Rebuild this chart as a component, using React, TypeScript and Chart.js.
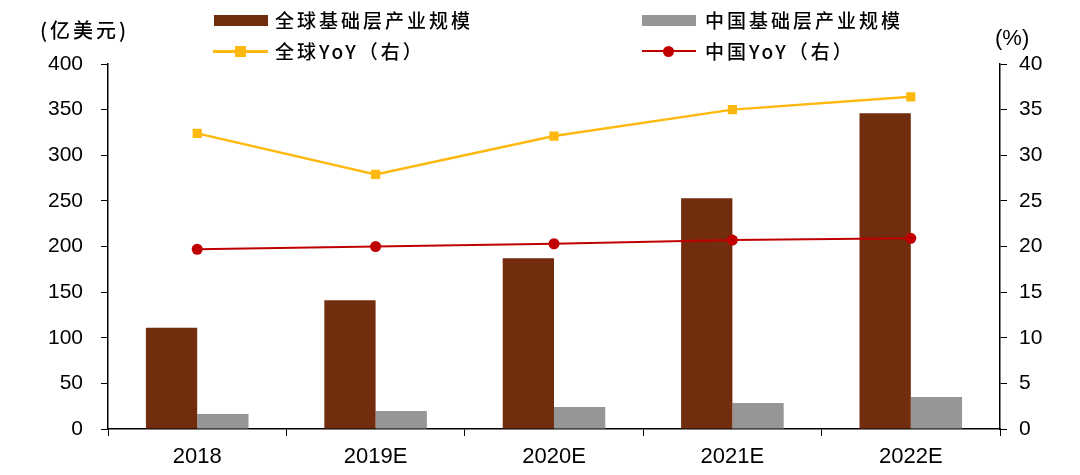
import React, { useEffect, useRef } from "react";
import { Chart, registerables } from "chart.js";

Chart.register(...registerables);

const categories = ["2018", "2019E", "2020E", "2021E", "2022E"];
const globalScale = [111, 141, 187, 253, 346];
const chinaScale = [16.5, 19.7, 24, 28.5, 35];
const globalYoY = [32.4, 27.9, 32.1, 35.0, 36.4];
const chinaYoY = [19.7, 20.0, 20.3, 20.7, 20.9];
const leftTicks = [0, 50, 100, 150, 200, 250, 300, 350, 400];
const rightTicks = [0, 5, 10, 15, 20, 25, 30, 35, 40];

const BROWN = "#722C0E";
const GREY = "#969696";
const GOLD = "#FFB80F";
const RED = "#C00000";

const numFamily = "'Liberation Sans', Arial, sans-serif";
const yFont = { family: numFamily, size: 21 };
const xFont = { family: numFamily, size: 22 };
const cjk = "'Noto Sans CJK SC', 'Liberation Sans', sans-serif";

export default function App() {
  const ref = useRef<HTMLCanvasElement | null>(null);

  useEffect(() => {
    if (!ref.current) return;
    const chart = new Chart(ref.current, {
      type: "bar",
      data: {
        labels: categories,
        datasets: [
          {
            type: "line",
            label: "全球YoY（右）",
            data: globalYoY,
            yAxisID: "y1",
            borderColor: GOLD,
            backgroundColor: GOLD,
            borderWidth: 2.5,
            pointStyle: "rect",
            pointRadius: 6.5,
            pointBorderWidth: 0,
            order: 0,
          },
          {
            type: "line",
            label: "中国YoY（右）",
            data: chinaYoY,
            yAxisID: "y1",
            borderColor: RED,
            backgroundColor: RED,
            borderWidth: 2,
            pointStyle: "circle",
            pointRadius: 5.5,
            pointBorderWidth: 0,
            order: 0,
          },
          {
            type: "bar",
            label: "全球基础层产业规模",
            data: globalScale,
            yAxisID: "y",
            backgroundColor: BROWN,
            categoryPercentage: 0.575,
            barPercentage: 1,
            order: 1,
          },
          {
            type: "bar",
            label: "中国基础层产业规模",
            data: chinaScale,
            yAxisID: "y",
            backgroundColor: GREY,
            categoryPercentage: 0.575,
            barPercentage: 1,
            order: 1,
          },
        ],
      },
      options: {
        animation: false,
        responsive: true,
        maintainAspectRatio: false,
        layout: { padding: { top: 64, left: 0, right: 0, bottom: 0 } },
        plugins: { legend: { display: false }, tooltip: { enabled: false } },
        scales: {
          x: {
            grid: {
              display: true,
              drawOnChartArea: false,
              drawTicks: true,
              tickLength: 7,
              color: "#000",
              offset: true,
            },
            border: { display: true, color: "#000", width: 1.5 },
            ticks: { color: "#000", font: xFont, padding: 8, maxRotation: 0 },
            afterFit: (s: any) => {
              s.height = 46;
            },
          },
          y: {
            position: "left",
            min: 0,
            max: 400,
            afterBuildTicks: (s: any) => {
              s.ticks = leftTicks.map((v) => ({ value: v }));
            },
            grid: {
              display: true,
              drawOnChartArea: false,
              drawTicks: true,
              tickLength: 7,
              color: "#000",
            },
            border: { display: true, color: "#000", width: 1.5 },
            ticks: { color: "#000", font: yFont, padding: 18 },
            afterFit: (s: any) => {
              s.width = 108;
            },
          },
          y1: {
            position: "right",
            min: 0,
            max: 40,
            afterBuildTicks: (s: any) => {
              s.ticks = rightTicks.map((v) => ({ value: v }));
            },
            grid: {
              display: true,
              drawOnChartArea: false,
              drawTicks: true,
              tickLength: 7,
              color: "#000",
            },
            border: { display: true, color: "#000", width: 1.5 },
            ticks: { color: "#000", font: yFont, padding: 12 },
            afterFit: (s: any) => {
              s.width = 80;
            },
          },
        },
      },
    });
    return () => chart.destroy();
  }, []);

  const legendText: React.CSSProperties = {
    position: "absolute",
    fontFamily: cjk,
    fontSize: 19,
    fontWeight: 500,
    letterSpacing: 3,
    color: "#000",
    lineHeight: "22px",
    whiteSpace: "nowrap",
  };

  return (
    <div style={{ position: "absolute", left: 0, top: 0, width: 1080, height: 475, background: "#fff" }}>
      <canvas ref={ref} />
      <div style={{ position: "absolute", left: 40, top: 19, fontFamily: cjk, fontSize: 20, fontWeight: 500, letterSpacing: 3, lineHeight: "22px", whiteSpace: "nowrap" }}>
        (亿美元)
      </div>
      <div style={{ position: "absolute", left: 995, top: 26, fontFamily: numFamily, fontSize: 22, lineHeight: "24px" }}>
        (%)
      </div>
      {/* legend row 1 */}
      <div style={{ position: "absolute", left: 214, top: 15, width: 54, height: 11, background: BROWN }} />
      <div style={{ ...legendText, left: 275, top: 9 }}>全球基础层产业规模</div>
      <div style={{ position: "absolute", left: 642, top: 15, width: 54, height: 11, background: GREY }} />
      <div style={{ ...legendText, left: 705, top: 9 }}>中国基础层产业规模</div>
      {/* legend row 2 */}
      <div style={{ position: "absolute", left: 213, top: 50, width: 55, height: 2.5, background: GOLD }} />
      <div style={{ position: "absolute", left: 235, top: 46, width: 11, height: 11, background: GOLD }} />
      <div style={{ ...legendText, left: 275, top: 40 }}>全球YoY（右）</div>
      <div style={{ position: "absolute", left: 642, top: 50, width: 54, height: 2, background: RED }} />
      <div style={{ position: "absolute", left: 663, top: 45.5, width: 11, height: 11, borderRadius: "50%", background: RED }} />
      <div style={{ ...legendText, left: 705, top: 40 }}>中国YoY（右）</div>
    </div>
  );
}
